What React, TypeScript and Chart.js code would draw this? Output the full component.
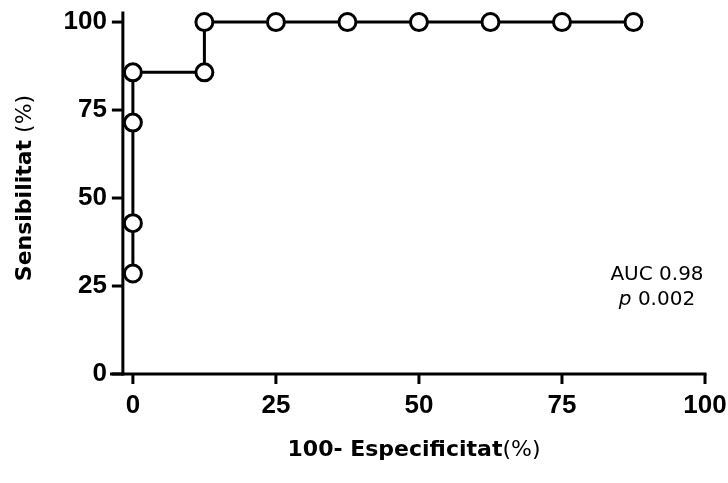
import React, { useEffect, useRef } from "react";
import { Chart, registerables } from "chart.js";

Chart.register(...registerables);

// ROC curve data (100 - specificity, sensitivity), in %
const fpr = [0, 0, 0, 0, 12.5, 12.5, 25, 37.5, 50, 62.5, 75, 87.5];
const tpr = [28.57, 42.86, 71.43, 85.71, 85.71, 100, 100, 100, 100, 100, 100, 100];
const xTicks = [0, 25, 50, 75, 100];
const yTicks = [0, 25, 50, 75, 100];
const xTitleBold = "100- Especificitat";
const xTitleUnit = "(%)";
const yTitleBold = "Sensibilitat";
const yTitleUnit = " (%)";
const aucLabel = "AUC 0.98";
const pPrefix = "p";
const pValue = " 0.002";

const X_MIN = -4;
const X_MAX = 100;
const Y_MIN = 0;
const Y_MAX = 103;
const Y_AXIS_AT = -1.75;

const FONT = "'DejaVu Sans', 'Liberation Sans', sans-serif";
const TICK_FONT = "'Liberation Sans', Arial, sans-serif";

const prismPlugin = {
  id: "prismAxes",
  beforeDatasetsDraw(chart: any) {
    const { ctx, chartArea } = chart;
    const x = chart.scales.x;
    const y = chart.scales.y;
    ctx.save();
    ctx.strokeStyle = "#000";
    ctx.lineWidth = 3;
    ctx.lineCap = "butt";
    const base = y.getPixelForValue(0);
    // x axis
    ctx.beginPath();
    ctx.moveTo(chartArea.left, base);
    ctx.lineTo(x.getPixelForValue(100) + 1.5, base);
    ctx.stroke();
    xTicks.forEach((v) => {
      const px = x.getPixelForValue(v);
      ctx.beginPath();
      ctx.moveTo(px, base);
      ctx.lineTo(px, base + 10);
      ctx.stroke();
    });
    // y axis
    const ax = x.getPixelForValue(Y_AXIS_AT);
    ctx.beginPath();
    ctx.moveTo(ax, chartArea.top);
    ctx.lineTo(ax, base + 1.5);
    ctx.stroke();
    yTicks.forEach((v) => {
      const py = y.getPixelForValue(v);
      ctx.beginPath();
      ctx.moveTo(ax - 11, py);
      ctx.lineTo(ax, py);
      ctx.stroke();
    });
    ctx.restore();
  },
  afterDraw(chart: any) {
    const { ctx } = chart;
    ctx.save();
    ctx.fillStyle = "#000";
    ctx.textBaseline = "alphabetic";
    ctx.textAlign = "left";
    // x title
    const boldF = `bold 22px ${FONT}`;
    const regF = `22px ${FONT}`;
    ctx.font = boldF;
    const wb = ctx.measureText(xTitleBold).width;
    ctx.font = regF;
    const wu = ctx.measureText(xTitleUnit).width;
    const sx = 414 - (wb + wu) / 2;
    ctx.font = boldF;
    ctx.fillText(xTitleBold, sx, 456);
    ctx.font = regF;
    ctx.fillText(xTitleUnit, sx + wb, 456);
    // y title
    ctx.save();
    ctx.translate(31, 188);
    ctx.rotate(-Math.PI / 2);
    ctx.font = boldF;
    const yb = ctx.measureText(yTitleBold).width;
    ctx.font = regF;
    const yu = ctx.measureText(yTitleUnit).width;
    const sy = -(yb + yu) / 2;
    ctx.font = boldF;
    ctx.fillText(yTitleBold, sy, 0);
    ctx.font = regF;
    ctx.fillText(yTitleUnit, sy + yb, 0);
    ctx.restore();
    // annotation
    const aF = `20px ${FONT}`;
    const iF = `italic 20px ${FONT}`;
    ctx.font = aF;
    ctx.textAlign = "center";
    ctx.fillText(aucLabel, 657, 280);
    ctx.textAlign = "left";
    ctx.font = iF;
    const wp = ctx.measureText(pPrefix).width;
    ctx.font = aF;
    const wv = ctx.measureText(pValue).width;
    const px0 = 657 - (wp + wv) / 2;
    ctx.font = iF;
    ctx.fillText(pPrefix, px0, 305);
    ctx.font = aF;
    ctx.fillText(pValue, px0 + wp, 305);
    ctx.restore();
  },
};

export default function App() {
  const ref = useRef<HTMLCanvasElement | null>(null);
  useEffect(() => {
    if (!ref.current) return;
    const chart = new Chart(ref.current, {
      type: "scatter",
      data: {
        datasets: [
          {
            data: fpr.map((v, i) => ({ x: v, y: tpr[i] })),
            showLine: true,
            borderColor: "#000",
            borderWidth: 3,
            pointRadius: 8.5,
            pointHoverRadius: 8.5,
            pointBorderWidth: 3,
            pointBackgroundColor: "#fff",
            pointBorderColor: "#000",
            clip: false as any,
          },
        ],
      },
      options: {
        animation: false,
        responsive: false,
        devicePixelRatio: 1,
        layout: { padding: { left: 0, right: 23, top: 10, bottom: 0 } },
        plugins: { legend: { display: false }, tooltip: { enabled: false } },
        scales: {
          x: {
            type: "linear",
            min: X_MIN,
            max: X_MAX,
            border: { display: false },
            grid: { display: false, drawTicks: false, tickLength: 0 },
            afterBuildTicks: (s: any) => {
              s.ticks = xTicks.map((v) => ({ value: v }));
            },
            afterFit: (s: any) => {
              s.height = 483 - 374;
              s.paddingLeft = 0;
              s.paddingRight = 0;
            },
            ticks: {
              padding: 16,
              color: "#000",
              font: { family: TICK_FONT, weight: "bold", size: 26 },
              maxRotation: 0,
              autoSkip: false,
            },
          },
          y: {
            type: "linear",
            min: Y_MIN,
            max: Y_MAX,
            border: { display: false },
            grid: { display: false, drawTicks: false, tickLength: 0 },
            afterBuildTicks: (s: any) => {
              s.ticks = yTicks.map((v) => ({ value: v }));
            },
            afterFit: (s: any) => {
              s.width = 110;
              s.paddingTop = 0;
              s.paddingBottom = 0;
            },
            ticks: {
              padding: 3,
              color: "#000",
              font: { family: TICK_FONT, weight: "bold", size: 26 },
              autoSkip: false,
            },
          },
        },
      },
      plugins: [prismPlugin],
    } as any);
    return () => chart.destroy();
  }, []);
  return (
    <div style={{ position: "fixed", left: 0, top: 0, width: 728, height: 483, background: "#fff" }}>
      <canvas ref={ref} width={728} height={483} style={{ width: 728, height: 483, display: "block" }} />
    </div>
  );
}
